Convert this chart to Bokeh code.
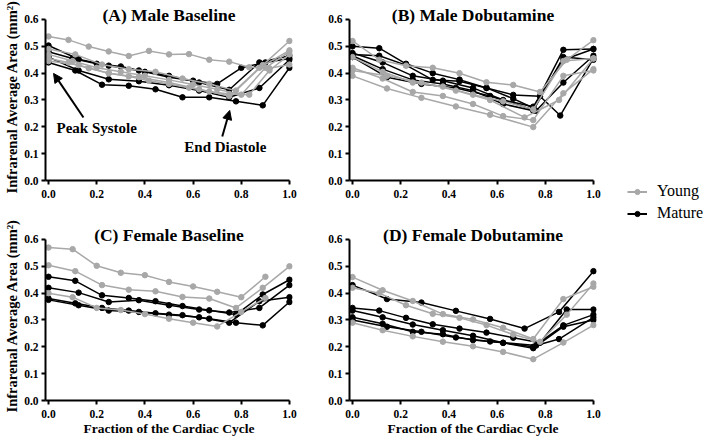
from bokeh.plotting import figure
from bokeh.layouts import row, column
from bokeh.models import (Range1d, FixedTicker, PrintfTickFormatter, Label, Arrow,
                          NormalHead, Legend, LegendItem, Title)
from bokeh.embed import file_html
from bokeh.resources import INLINE

# ---------------- data ----------------
panel_titles = ["(A) Male Baseline", "(B) Male Dobutamine",
                "(C) Female Baseline", "(D) Female Dobutamine"]
series_names = ["Young", "Mature"]
x_label = "Fraction of the Cardiac Cycle"
y_label = "Infrarenal Average Area (mm²)"
x_ticks = [0.0, 0.2, 0.4, 0.6, 0.8, 1.0]
y_ticks = [0.0, 0.1, 0.2, 0.3, 0.4, 0.5, 0.6]

# Panel A - Male Baseline
A_young_x = [
    [0, 0.083, 0.167, 0.25, 0.333, 0.417, 0.5, 0.583, 0.667, 0.75, 0.833, 0.917, 1.0],
    [0, 0.111, 0.222, 0.333, 0.444, 0.556, 0.667, 0.778, 0.889, 1.0],
    [0, 0.083, 0.167, 0.25, 0.333, 0.417, 0.5, 0.583, 0.667, 0.75, 0.833, 0.917, 1.0],
    [0, 0.1, 0.2, 0.3, 0.4, 0.5, 0.6, 0.7, 0.8, 0.9, 1.0],
    [0, 0.125, 0.25, 0.375, 0.5, 0.625, 0.75, 0.875, 1.0],
]
A_young_y = [
    [0.537, 0.524, 0.499, 0.481, 0.464, 0.483, 0.470, 0.471, 0.450, 0.443, 0.422, 0.418, 0.432],
    [0.49, 0.47, 0.432, 0.415, 0.405, 0.38, 0.36, 0.335, 0.43, 0.52],
    [0.455, 0.44, 0.418, 0.40, 0.388, 0.372, 0.36, 0.346, 0.332, 0.322, 0.32, 0.41, 0.47],
    [0.47, 0.445, 0.42, 0.405, 0.39, 0.375, 0.358, 0.34, 0.32, 0.42, 0.48],
    [0.445, 0.43, 0.40, 0.385, 0.365, 0.34, 0.315, 0.42, 0.485],
]
A_mature_x = [
    [0, 0.111, 0.222, 0.333, 0.444, 0.556, 0.667, 0.778, 0.889, 1.0],
    [0, 0.125, 0.25, 0.375, 0.5, 0.625, 0.75, 0.875, 1.0],
    [0, 0.1, 0.2, 0.3, 0.4, 0.5, 0.6, 0.7, 0.8, 0.9, 1.0],
    [0, 0.125, 0.25, 0.375, 0.5, 0.625, 0.75, 0.875, 1.0],
]
A_mature_y = [
    [0.44, 0.41, 0.357, 0.353, 0.34, 0.31, 0.31, 0.295, 0.28, 0.42],
    [0.46, 0.41, 0.377, 0.37, 0.355, 0.335, 0.31, 0.345, 0.45],
    [0.48, 0.455, 0.435, 0.425, 0.405, 0.385, 0.372, 0.36, 0.42, 0.44, 0.455],
    [0.503, 0.452, 0.428, 0.41, 0.39, 0.365, 0.338, 0.44, 0.465],
]

# Panel B - Male Dobutamine
B_young_x = [
    [0, 0.111, 0.222, 0.333, 0.444, 0.556, 0.667, 0.778, 0.889, 1.0],
    [0, 0.143, 0.286, 0.429, 0.571, 0.75, 0.875, 1.0],
    [0, 0.125, 0.25, 0.375, 0.5, 0.625, 0.75, 0.875, 1.0],
    [0, 0.125, 0.25, 0.375, 0.5, 0.625, 0.75, 0.875, 1.0],
    [0, 0.143, 0.286, 0.429, 0.571, 0.714, 0.857, 1.0],
]
B_young_y = [
    [0.52, 0.45, 0.428, 0.42, 0.40, 0.366, 0.356, 0.33, 0.45, 0.523],
    [0.39, 0.343, 0.308, 0.276, 0.245, 0.199, 0.325, 0.415],
    [0.42, 0.38, 0.33, 0.315, 0.285, 0.24, 0.225, 0.39, 0.41],
    [0.46, 0.405, 0.365, 0.35, 0.32, 0.295, 0.265, 0.445, 0.455],
    [0.41, 0.39, 0.365, 0.335, 0.30, 0.235, 0.30, 0.455],
]
B_mature_x = [
    [0, 0.111, 0.222, 0.333, 0.444, 0.556, 0.667, 0.778, 0.862, 1.0],
    [0, 0.111, 0.222, 0.333, 0.444, 0.556, 0.667, 0.75, 0.875, 1.0],
    [0, 0.143, 0.286, 0.429, 0.571, 0.762, 0.875, 1.0],
    [0, 0.125, 0.25, 0.375, 0.5, 0.625, 0.75, 0.875, 1.0],
    [0, 0.125, 0.25, 0.375, 0.5, 0.625, 0.75, 0.875, 1.0],
]
B_mature_y = [
    [0.50, 0.493, 0.435, 0.40, 0.376, 0.345, 0.319, 0.314, 0.242, 0.455],
    [0.47, 0.465, 0.43, 0.375, 0.37, 0.345, 0.305, 0.27, 0.487, 0.49],
    [0.46, 0.385, 0.36, 0.345, 0.315, 0.26, 0.365, 0.465],
    [0.475, 0.44, 0.39, 0.372, 0.345, 0.30, 0.275, 0.45, 0.49],
    [0.465, 0.415, 0.375, 0.36, 0.335, 0.285, 0.26, 0.46, 0.45],
]

# Panel C - Female Baseline
C_young_x = [
    [0, 0.1, 0.2, 0.3, 0.4, 0.5, 0.6, 0.7, 0.8, 0.9],
    [0, 0.111, 0.222, 0.333, 0.444, 0.556, 0.667, 0.778, 0.889, 1.0],
    [0, 0.1, 0.2, 0.3, 0.4, 0.5, 0.6, 0.7, 0.8, 0.9],
]
C_young_y = [
    [0.570, 0.564, 0.502, 0.476, 0.467, 0.442, 0.425, 0.405, 0.385, 0.461],
    [0.504, 0.482, 0.43, 0.413, 0.407, 0.386, 0.38, 0.345, 0.42, 0.50],
    [0.40, 0.385, 0.345, 0.337, 0.322, 0.305, 0.29, 0.276, 0.33, 0.382],
]
C_mature_x = [
    [0, 0.111, 0.222, 0.333, 0.444, 0.556, 0.667, 0.778, 0.889, 1.0],
    [0, 0.125, 0.25, 0.375, 0.5, 0.625, 0.75, 0.875, 1.0],
    [0, 0.111, 0.222, 0.333, 0.444, 0.556, 0.667, 0.778, 0.889, 1.0],
    [0, 0.125, 0.25, 0.375, 0.5, 0.625, 0.75, 0.875, 1.0],
]
C_mature_y = [
    [0.461, 0.446, 0.392, 0.382, 0.37, 0.352, 0.336, 0.32, 0.395, 0.45],
    [0.42, 0.402, 0.367, 0.374, 0.355, 0.339, 0.328, 0.345, 0.43],
    [0.38, 0.362, 0.345, 0.335, 0.325, 0.318, 0.305, 0.29, 0.28, 0.367],
    [0.375, 0.355, 0.335, 0.33, 0.32, 0.31, 0.29, 0.37, 0.385],
]

# Panel D - Female Dobutamine
D_young_x = [
    [0, 0.125, 0.25, 0.375, 0.5, 0.625, 0.75, 0.875, 1.0],
    [0, 0.111, 0.222, 0.333, 0.444, 0.556, 0.667, 0.778, 0.889, 1.0],
    [0, 0.125, 0.25, 0.375, 0.5, 0.625, 0.75, 0.875, 1.0],
]
D_young_y = [
    [0.46, 0.411, 0.371, 0.322, 0.302, 0.271, 0.229, 0.378, 0.424],
    [0.42, 0.40, 0.355, 0.323, 0.308, 0.281, 0.246, 0.219, 0.32, 0.436],
    [0.29, 0.262, 0.239, 0.219, 0.202, 0.181, 0.154, 0.216, 0.281],
]
D_mature_x = [
    [0, 0.143, 0.286, 0.429, 0.571, 0.714, 0.857, 1.0],
    [0, 0.111, 0.222, 0.333, 0.444, 0.556, 0.667, 0.778, 0.889, 1.0],
    [0, 0.125, 0.25, 0.375, 0.5, 0.625, 0.75, 0.875, 1.0],
    [0, 0.125, 0.25, 0.375, 0.5, 0.625, 0.75, 0.875, 1.0],
    [0, 0.143, 0.286, 0.429, 0.571, 0.762, 0.857, 1.0],
]
D_mature_y = [
    [0.43, 0.378, 0.365, 0.334, 0.304, 0.268, 0.33, 0.482],
    [0.345, 0.335, 0.308, 0.284, 0.268, 0.253, 0.234, 0.215, 0.339, 0.339],
    [0.335, 0.31, 0.283, 0.262, 0.241, 0.215, 0.20, 0.28, 0.32],
    [0.31, 0.286, 0.256, 0.247, 0.225, 0.215, 0.195, 0.275, 0.30],
    [0.30, 0.275, 0.256, 0.235, 0.22, 0.205, 0.229, 0.31],
]

# annotations in panel A
ann_texts = ["Peak Systole", "End Diastole"]
ann_text_pos = [(0.20, 0.194), (0.734, 0.123)]
ann_arrows = [((0.145, 0.235), (0.021, 0.399)), ((0.721, 0.164), (0.752, 0.261))]

# ---------------- style ----------------
FONT = "Liberation Serif"
GRAY = "#a8a8a8"
BLACK = "#000000"
XPAD = 0.0125


def make_panel(title, yx, yy, mx, my, width, height, left, right, bottom,
               y_top, title_y, xlabel=False, ylabel_offset=None):
    p = figure(width=width, height=height, output_backend="svg", toolbar_location=None,
               x_range=Range1d(-XPAD, 1.0 + XPAD), y_range=Range1d(0, y_top),
               min_border_left=left, min_border_right=right,
               min_border_top=0, min_border_bottom=bottom)
    p.xgrid.visible = False
    p.ygrid.visible = False
    p.outline_line_color = None
    p.xaxis.bounds = (-XPAD, 1.0)
    p.yaxis.bounds = (0.0, 0.6)
    p.xaxis.ticker = FixedTicker(ticks=x_ticks)
    p.yaxis.ticker = FixedTicker(ticks=y_ticks)
    for ax in (p.xaxis, p.yaxis):
        ax.formatter = PrintfTickFormatter(format="%.1f")
        ax.axis_line_width = 2
        ax.axis_line_color = BLACK
        ax.major_tick_line_width = 2
        ax.major_tick_line_color = BLACK
        ax.major_tick_in = 0
        ax.major_tick_out = 4
        ax.minor_tick_line_color = None
        ax.major_label_text_font = FONT
        ax.major_label_text_font_style = "bold"
        ax.major_label_text_font_size = "11.5px"
        ax.major_label_text_color = BLACK
        ax.axis_label_text_font = FONT
        ax.axis_label_text_font_style = "bold"
        ax.axis_label_text_color = BLACK
        ax.axis_label_text_font_size = "13.5px"
    p.xaxis.major_label_standoff = 5
    p.xaxis.axis_label_standoff = 0
    p.yaxis.major_label_standoff = 3
    if xlabel:
        p.xaxis.axis_label = x_label
    if ylabel_offset is not None:
        p.add_layout(Title(text=y_label, align="left", vertical_align="middle",
                           offset=ylabel_offset, standoff=2, text_font=FONT,
                           text_font_style="bold", text_font_size="14.5px",
                           text_color=BLACK), "left")

    for xs, ys in zip(mx, my):
        p.line(xs, ys, line_color=BLACK, line_width=1.5)
        p.scatter(xs, ys, marker="circle", size=5.5, fill_color=BLACK, line_color=BLACK)
    for xs, ys in zip(yx, yy):
        p.line(xs, ys, line_color=GRAY, line_width=1.5)
        p.scatter(xs, ys, marker="circle", size=5.5, fill_color=GRAY, line_color=GRAY)

    p.add_layout(Label(x=0.5, y=title_y, text=title, text_align="center",
                       text_baseline="alphabetic", text_font=FONT,
                       text_font_style="bold", text_font_size="17.5px",
                       text_color=BLACK))
    return p


H1, H2 = 216, 230
# row 1: frame spans 0..180 px, 0.6 at 19 px; row 2: frame 0..184, 0.6 at 23 px
pA = make_panel(panel_titles[0], A_young_x, A_young_y, A_mature_x, A_mature_y,
                320, H1, 45, 28, 36, 0.6708, 0.6186, ylabel_offset=-13)
pB = make_panel(panel_titles[1], B_young_x, B_young_y, B_mature_x, B_mature_y,
                292, H1, 29, 16, 36, 0.6708, 0.6186)
pC = make_panel(panel_titles[2], C_young_x, C_young_y, C_mature_x, C_mature_y,
                320, H2, 45, 28, 46, 0.6857, 0.6149, xlabel=True, ylabel_offset=-12)
pD = make_panel(panel_titles[3], D_young_x, D_young_y, D_mature_x, D_mature_y,
                292, H2, 29, 16, 46, 0.6857, 0.6149, xlabel=True)

for txt, (tx, ty) in zip(ann_texts, ann_text_pos):
    pA.add_layout(Label(x=tx, y=ty, text=txt, text_align="center", text_baseline="middle",
                        text_font=FONT, text_font_style="bold", text_font_size="15px",
                        text_color=BLACK))
for (s, e) in ann_arrows:
    pA.add_layout(Arrow(end=NormalHead(size=9, fill_color=BLACK, line_color=BLACK),
                        x_start=s[0], y_start=s[1], x_end=e[0], y_end=e[1],
                        line_color=BLACK, line_width=2))

# legend figure
nan = float("nan")
pL = figure(width=97, height=H1 + H2, output_backend="svg", toolbar_location=None,
            x_range=Range1d(0, 1), y_range=Range1d(0, 1),
            x_axis_type=None, y_axis_type=None,
            min_border_left=0, min_border_right=0, min_border_top=0, min_border_bottom=0)
pL.outline_line_color = None
pL.xgrid.visible = False
pL.ygrid.visible = False
items = []
for name, col in zip(series_names, [GRAY, BLACK]):
    rl = pL.line(x=[nan], y=[nan], line_color=col, line_width=2)
    rs = pL.scatter(x=[nan], y=[nan], marker="circle", size=6, fill_color=col, line_color=col)
    items.append(LegendItem(label=name, renderers=[rl, rs]))
leg = Legend(items=items, location=(15, 224), padding=0, margin=0, spacing=4,
             glyph_width=20, glyph_height=13, label_height=16, label_standoff=10,
             label_text_font=FONT, label_text_font_size="16px",
             label_text_color=BLACK, border_line_color=None,
             background_fill_alpha=0)
pL.add_layout(leg)

layout = row(column(row(pA, pB), row(pC, pD)), pL)
open("out.html", "w").write(file_html(layout, INLINE))
